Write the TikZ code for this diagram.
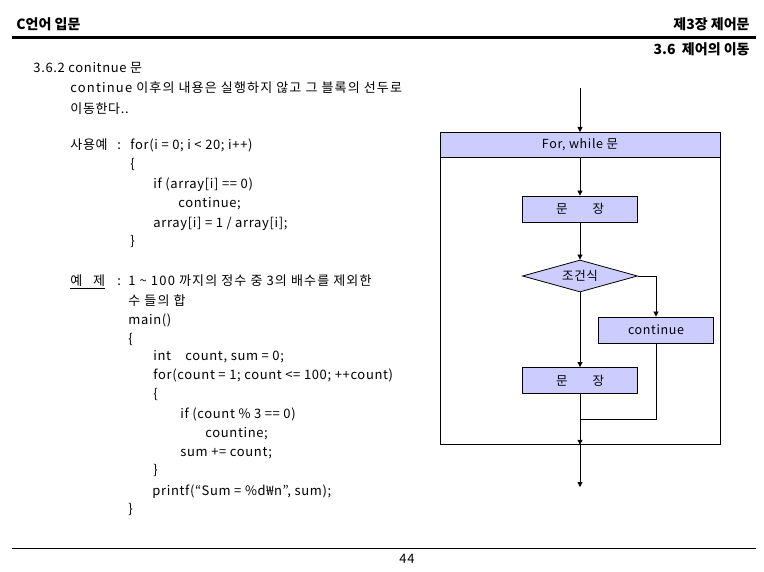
\documentclass[tikz,border=0pt]{standalone}
\usepackage{fontspec}
\setmainfont{Noto Sans CJK KR}
\newfontfamily\gulim[LetterSpace=5]{Noto Sans CJK KR}
\newfontfamily\gulimwide[LetterSpace=9]{Noto Sans CJK KR}
\usepackage{tikz}
\usetikzlibrary{arrows.meta,shapes.geometric}
\definecolor{boxfill}{RGB}{204,204,255}

\begin{document}
\begin{tikzpicture}[x=1pt, y=-1pt, line width=0.8pt,
    hdr/.style={inner sep=0pt, font=\fontsize{14}{16}\selectfont\bfseries},
    txt/.style={anchor=base west, inner sep=0pt, font=\gulim\fontsize{13}{15}\selectfont},
    prose/.style={txt, font=\gulimwide\fontsize{13}{15}\selectfont},
    box/.style={draw, fill=boxfill, minimum width=115pt, minimum height=26pt, inner sep=0pt, font=\gulim\fontsize{12.5}{14}\selectfont},
    cond/.style={diamond, draw, fill=boxfill, aspect=3.6, minimum width=115pt, minimum height=32pt, inner sep=0pt, font=\gulim\fontsize{12.5}{14}\selectfont},
    arr/.style={-{Triangle[length=5pt,width=5pt]}}]
      \useasboundingbox (0,0) rectangle (764,572);

      \node[hdr, anchor=base west] (title) at (16,30) {C언어 입문};
      \node[hdr, anchor=base east] (chapter) at (750,30) {제3장 제어문};
      \draw[line width=3.5pt] (12,37.5) -- (756,37.5);
      \node[hdr, anchor=base east] (section) at (750,55) {3.6\ \ 제어의 이동};

      \node[txt] (heading) at (33,73) {3.6.2 conitnue 문};
      \node[prose] (desc1) at (70,93) {continue 이후의 내용은 실행하지 않고 그 블록의 선두로};
      \node[txt] (desc2) at (70,114) {이동한다..};

      \node[txt] (usage) at (70,150) {사용예};
      \node[txt] (colon1) at (117,150) {:};
      \node[txt] (for1) at (130,150) {for(i = 0; i < 20; i++)};
      \node[txt] (open1) at (130,169) {\{};
      \node[txt] (if1) at (153,189) {if (array[i] == 0)};
      \node[txt] (cont1) at (178,208) {continue;};
      \node[txt] (assign1) at (153,228) {array[i] = 1 / array[i];};
      \node[txt] (close1) at (130,246) {\}};

      \node[txt] (example) at (70,286) {예\ \ \ 제};
      \draw[line width=0.6pt] ([yshift=-2pt]example.base west) -- ([yshift=-2pt]example.base east);
      \node[txt] (colon2) at (117,286) {:};
      \node[prose] (task1) at (128,286) {1 \textasciitilde{} 100 까지의 정수 중 3의 배수를 제외한};
      \node[prose] (task2) at (128,306) {수 들의 합};
      \node[txt] (main) at (128,325) {main()};
      \node[txt] (open2) at (128,344) {\{};
      \node[txt] (decl) at (153,361) {int\ \ \ \ count, sum = 0;};
      \node[txt] (for2) at (153,380) {for(count = 1; count <= 100; ++count)};
      \node[txt] (open3) at (153,399) {\{};
      \node[txt] (if2) at (180,418) {if (count \% 3 == 0)};
      \node[txt] (cont2) at (205,437) {countine;};
      \node[txt] (sum) at (180,456) {sum += count;};
      \node[txt] (close3) at (153,474) {\}};
      \node[txt] (print) at (152,495) {printf(“Sum = \%d₩n”, sum);};
      \node[txt] (close2) at (128,513) {\}};

      \draw[line width=0.8pt] (12,548) -- (756,548);
      \node[txt, anchor=base] (page) at (407,563) {44};

      \coordinate (entry) at (580,88);
      \node[draw, minimum width=280pt, minimum height=312pt, inner sep=0pt, anchor=north] (frame) at (580,132) {};
      \node[box, minimum width=280pt, minimum height=25pt, anchor=north] (loop) at (580,132) {For, while 문};
      \node[box] (stmt1) at (580,209) {문\hspace{2em}장};
      \node[cond] (test) at (580,276) {조건식};
      \node[box] (skip) at (656,330) {continue};
      \node[box] (stmt2) at (580,380.5) {문\hspace{2em}장};
      \coordinate (merge) at (580,419);
      \coordinate (exit) at (580,487);

      \draw[arr] (entry) -- (loop);
      \draw[arr] (loop) -- (stmt1);
      \draw[arr] (stmt1) -- (test);
      \draw[arr] (test.east) -| (skip.north);
      \draw[arr] (test) -- (stmt2);
      \draw (skip.south) |- (merge);
      \draw[arr] (stmt2) -- (frame.south);
      \draw[arr] (frame.south) -- (exit);
    \end{tikzpicture}
\end{document}
